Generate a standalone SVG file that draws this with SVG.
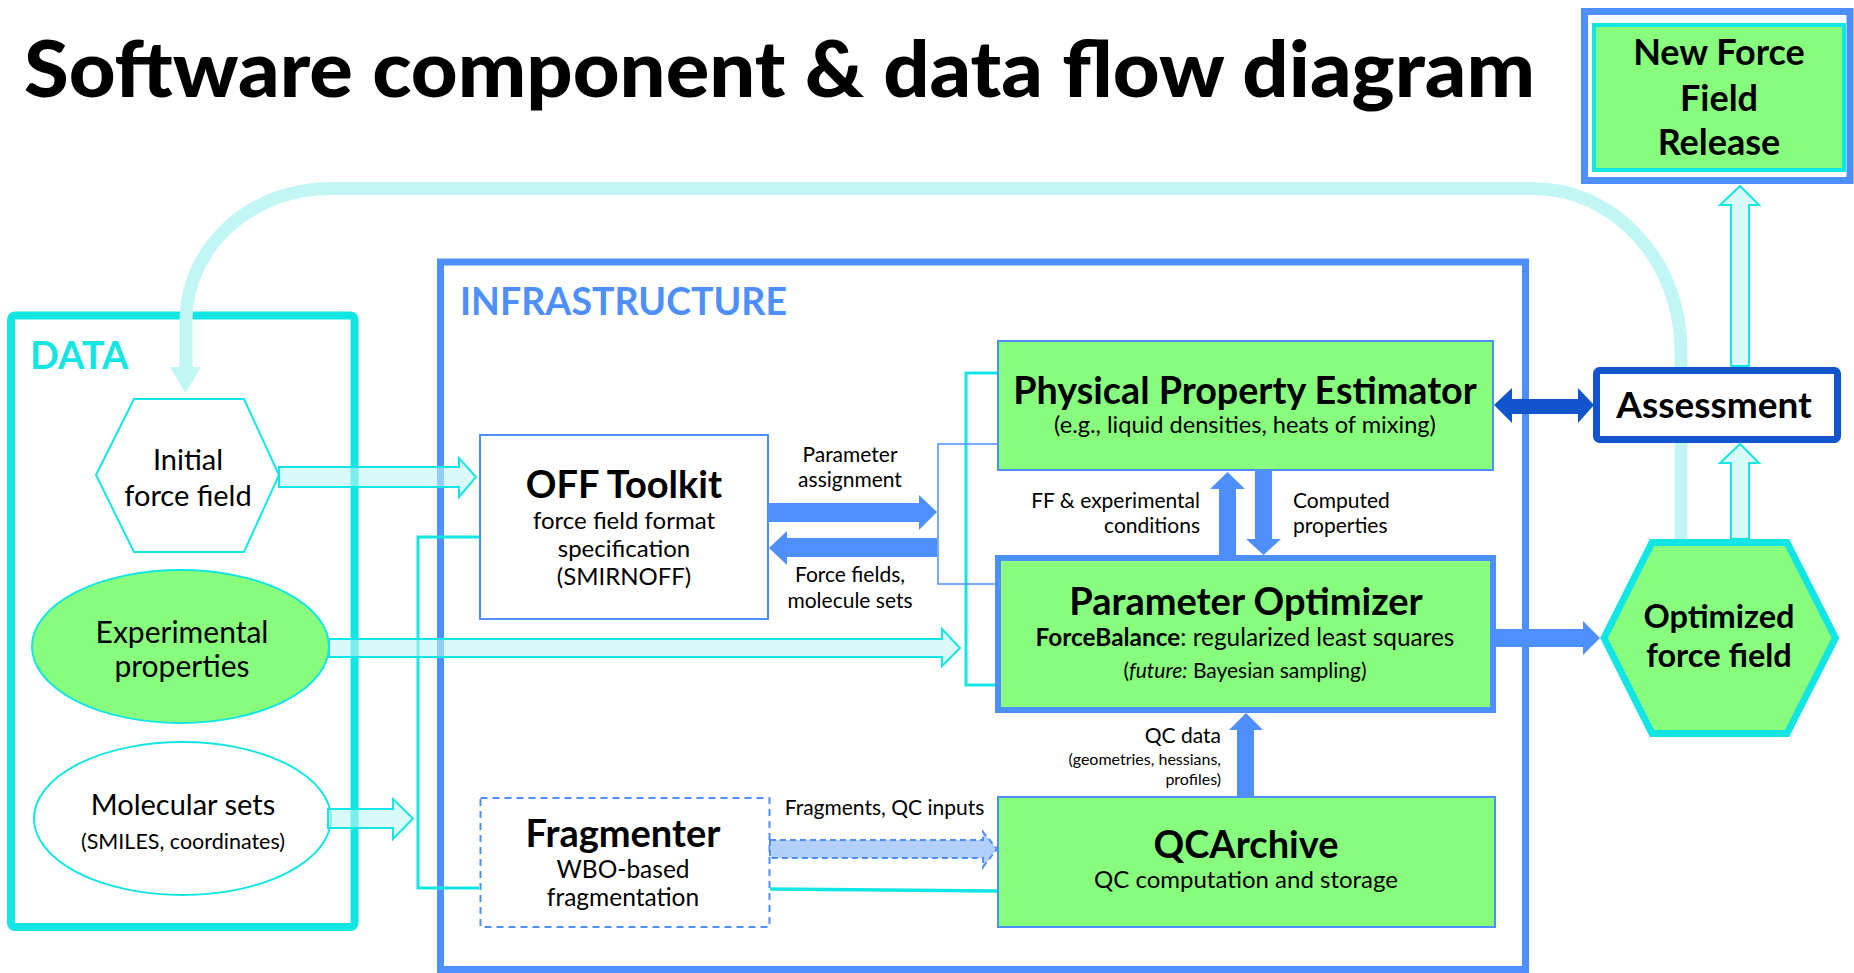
<svg xmlns="http://www.w3.org/2000/svg" width="1854" height="973" viewBox="0 0 1854 973">
<style>
text{font-family:Lato,"Liberation Sans",sans-serif;fill:#000}
.b{font-weight:bold}
.c{text-anchor:middle}
.r{text-anchor:end}
.thinblue{fill:#88fc7c;stroke:#4d8ffd;stroke-width:2}
.lc{fill:#bff6f5;fill-opacity:0.6;stroke:#12e6e4;stroke-width:2}
.bl{fill:#4d8ffd}
.cy{fill:none;stroke:#12e6e4;stroke-width:3}
</style>
<rect width="1854" height="973" fill="#fff"/>
<text x="24" y="97" font-size="78" font-weight="900" textLength="1511" lengthAdjust="spacingAndGlyphs">Software component &amp; data flow diagram</text>

<g id="release">
<rect x="1584.5" y="11.5" width="265.5" height="169" fill="#fff" stroke="#4d8ffd" stroke-width="7"/>
<rect x="1594" y="25" width="250" height="145" fill="#88fc7c" stroke="#12e6e4" stroke-width="4"/>
<text class="b c" x="1719" y="65" font-size="36">New Force</text>
<text class="b c" x="1719" y="111" font-size="36">Field</text>
<text class="b c" x="1719" y="155" font-size="36">Release</text>
</g>

<g id="data">
<rect x="11" y="315.5" width="343.5" height="611.5" rx="4" fill="none" stroke="#12e6e4" stroke-width="8"/>
<text class="b" x="30" y="369" font-size="38" style="fill:#12e6e4">DATA</text>
</g>

<g id="infrastructure">
<rect x="440.5" y="262" width="1085" height="707.5" fill="none" stroke="#4d8ffd" stroke-width="7"/>
<text class="b" x="460" y="315" font-size="37.5" style="fill:#4d8ffd">INFRASTRUCTURE</text>
</g>

<g id="loop">
<path d="M1681 540 L1681 350 A148 162 0 0 0 1533 188.5 L330 188.5 A144 132 0 0 0 186 320 L186 368" fill="none" stroke="#c2f6f5" stroke-width="13"/>
<polygon points="170,367 201,367 185.5,393" fill="#c2f6f5"/>
</g>

<g id="initial-ff">
<polygon points="96,475 134,399 244,399 279,475 244,552 134,552" fill="#fff" stroke="#12e6e4" stroke-width="2"/>
<text class="c" x="188" y="470" font-size="29">Initial</text>
<text class="c" x="188" y="506" font-size="29">force field</text>
</g>

<g id="experimental">
<ellipse cx="180.5" cy="646.5" rx="148.5" ry="76.5" fill="#88fc7c" stroke="#12e6e4" stroke-width="2"/>
<text class="c" x="182" y="643" font-size="30">Experimental</text>
<text class="c" x="182" y="677" font-size="30">properties</text>
</g>

<g id="molecular">
<ellipse cx="182.5" cy="818.5" rx="148.5" ry="76.5" fill="#fff" stroke="#12e6e4" stroke-width="2"/>
<text class="c" x="183" y="815" font-size="29">Molecular sets</text>
<text class="c" x="183" y="849" font-size="21.5">(SMILES, coordinates)</text>
</g>

<g id="off-toolkit">
<rect x="480" y="435" width="288" height="184" fill="#fff" stroke="#4d8ffd" stroke-width="2"/>
<text class="b c" x="624" y="498" font-size="38">OFF Toolkit</text>
<text class="c" x="624" y="529" font-size="24">force field format</text>
<text class="c" x="624" y="557" font-size="24">specification</text>
<text class="c" x="624" y="585" font-size="24">(SMIRNOFF)</text>
</g>

<g id="fragmenter">
<rect x="480.5" y="798" width="289" height="129" fill="#fff" stroke="#4d8ffd" stroke-width="2" stroke-dasharray="7 5"/>
<text class="b c" x="623" y="847" font-size="38">Fragmenter</text>
<text class="c" x="623" y="878" font-size="24.5">WBO-based</text>
<text class="c" x="623" y="906" font-size="24.5">fragmentation</text>
</g>

<g id="ppe">
<rect x="998" y="341" width="495" height="129" class="thinblue"/>
<text class="b c" x="1245" y="404" font-size="37.7">Physical Property Estimator</text>
<text class="c" x="1245" y="433" font-size="23.6">(e.g., liquid densities, heats of mixing)</text>
</g>

<g id="optimizer">
<rect x="998" y="558" width="495" height="152" fill="#88fc7c" stroke="#4d8ffd" stroke-width="6"/>
<text class="b c" x="1246" y="615" font-size="38">Parameter Optimizer</text>
<text class="c" x="1245" y="646" font-size="24.4"><tspan font-weight="bold">ForceBalance</tspan>: regularized least squares</text>
<text class="c" x="1245" y="678" font-size="21">(<tspan font-style="italic">future:</tspan> Bayesian sampling)</text>
</g>

<g id="qcarchive">
<rect x="998" y="797" width="497" height="130" class="thinblue"/>
<text class="b c" x="1246" y="858" font-size="38">QCArchive</text>
<text class="c" x="1246" y="888" font-size="24">QC computation and storage</text>
</g>

<g id="assessment">
<rect x="1596.5" y="370.5" width="241" height="69" rx="3" fill="#fff" stroke="#1254cc" stroke-width="7"/>
<text class="b c" x="1714" y="418" font-size="37">Assessment</text>
</g>

<g id="optimized-ff">
<polygon points="1652,542.5 1787,542.5 1835.5,638 1787,733.5 1652,733.5 1604,638" fill="#88fc7c" stroke="#12e6e4" stroke-width="7"/>
<text class="b c" x="1719" y="628" font-size="32.5">Optimized</text>
<text class="b c" x="1719" y="667" font-size="32.5">force field</text>
</g>

<g id="connectors">
<path class="cy" d="M479 537 H418 V888 H479"/>
<path class="cy" d="M997 373 H966 V685 H995"/>
<path d="M997 444 H938 V584 H997" fill="none" stroke="#4d8ffd" stroke-width="1.5"/>
<path d="M770 889 L997 891" fill="none" stroke="#12e6e4" stroke-width="3.5"/>
<polygon class="lc" points="279,467 459,467 459,458 476,477 459,497 459,487 279,487"/>
<polygon class="lc" points="329,639 942,639 942,629 960,648 942,666 942,657 329,657"/>
<polygon class="lc" points="328,809 393,809 393,799 413,818.5 393,839 393,828 328,828"/>
<polygon class="bl" points="769,503 919,503 919,495 937,512 919,530 919,522 769,522"/>
<polygon class="bl" points="937,538 787,538 787,531 769,548 787,565 787,557 937,557"/>
<polygon class="bl" points="1219,555 1219,489 1210,489 1227.5,472 1245,489 1236,489 1236,555"/>
<polygon class="bl" points="1255,471 1255,539 1246,539 1263.5,555 1281,539 1272,539 1272,471"/>
<polygon class="bl" points="1237,797 1237,730 1229,730 1246,713 1263,730 1254,730 1254,797"/>
<polygon class="bl" points="1496,629 1583,629 1583,621 1600,638 1583,655 1583,647 1496,647"/>
<polygon fill="#1254cc" points="1494,405 1512,388 1512,399 1578,399 1578,388 1594,405 1578,423 1578,414 1512,414 1512,423"/>
<polygon class="lc" points="1731,539 1731,463 1720,463 1740,444 1759,463 1749,463 1749,539"/>
<polygon class="lc" points="1731,366 1731,205 1720,205 1740,186 1759,205 1749,205 1749,366"/>
<polygon points="770,840 983,840 983,832 997,849 983,867 983,858 770,858" fill="#b3cffb" stroke="#4d8ffd" stroke-width="2" stroke-dasharray="6 4"/>
<text class="c" x="850" y="462" font-size="21">Parameter</text>
<text class="c" x="850" y="487" font-size="21">assignment</text>
<text class="c" x="850" y="582" font-size="21">Force fields,</text>
<text class="c" x="850" y="608" font-size="21">molecule sets</text>
<text class="r" x="1200" y="508" font-size="21">FF &amp; experimental</text>
<text class="r" x="1200" y="533" font-size="21">conditions</text>
<text x="1293" y="508" font-size="21">Computed</text>
<text x="1293" y="533" font-size="21">properties</text>
<text class="r" x="1221" y="743" font-size="21">QC data</text>
<text class="r" x="1221" y="765" font-size="16">(geometries, hessians,</text>
<text class="r" x="1221" y="785" font-size="16">profiles)</text>
<text class="c" x="884.5" y="815" font-size="21">Fragments, QC inputs</text>
</g>
</svg>
